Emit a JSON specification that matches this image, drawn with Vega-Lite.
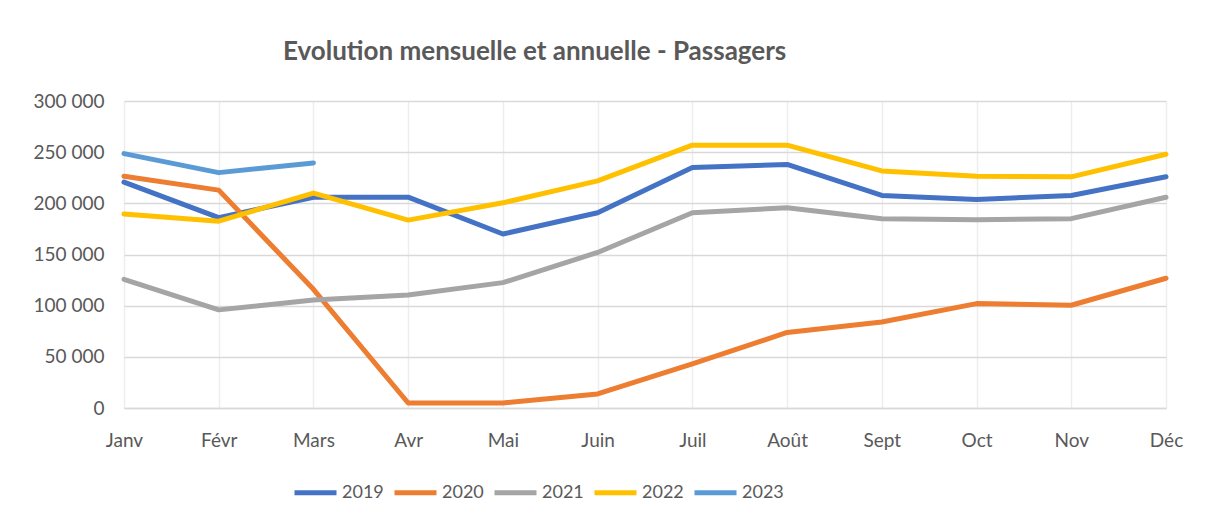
{
  "$schema": "https://vega.github.io/schema/vega-lite/v6.json",
  "width": 1042,
  "height": 307,
  "autosize": {"type": "none"},
  "padding": {"left": 124, "top": 101, "right": 40, "bottom": 116},
  "background": "white",
  "config": {
    "locale": {"number": {"decimal": ",", "thousands": " ", "grouping": [3], "currency": ["", " €"]}},
    "font": "Lato",
    "view": {"stroke": null}
  },
  "title": {
    "text": "Evolution mensuelle et annuelle - Passagers",
    "anchor": "start",
    "frame": "group",
    "dx": 159,
    "offset": 27,
    "font": "Lato",
    "fontSize": 26,
    "fontWeight": "bold",
    "color": "#595959"
  },
  "data": {
    "values": [
      {"mois": "Janv", "annee": "2019", "passagers": 220700},
      {"mois": "Févr", "annee": "2019", "passagers": 186000},
      {"mois": "Mars", "annee": "2019", "passagers": 206000},
      {"mois": "Avr", "annee": "2019", "passagers": 206000},
      {"mois": "Mai", "annee": "2019", "passagers": 170000},
      {"mois": "Juin", "annee": "2019", "passagers": 190800},
      {"mois": "Juil", "annee": "2019", "passagers": 235000},
      {"mois": "Août", "annee": "2019", "passagers": 238000},
      {"mois": "Sept", "annee": "2019", "passagers": 207700},
      {"mois": "Oct", "annee": "2019", "passagers": 203800},
      {"mois": "Nov", "annee": "2019", "passagers": 207700},
      {"mois": "Déc", "annee": "2019", "passagers": 226000},
      {"mois": "Janv", "annee": "2020", "passagers": 226500},
      {"mois": "Févr", "annee": "2020", "passagers": 212900},
      {"mois": "Mars", "annee": "2020", "passagers": 116000},
      {"mois": "Avr", "annee": "2020", "passagers": 4900},
      {"mois": "Mai", "annee": "2020", "passagers": 4900},
      {"mois": "Juin", "annee": "2020", "passagers": 13700},
      {"mois": "Juil", "annee": "2020", "passagers": 43200},
      {"mois": "Août", "annee": "2020", "passagers": 73800},
      {"mois": "Sept", "annee": "2020", "passagers": 84000},
      {"mois": "Oct", "annee": "2020", "passagers": 102000},
      {"mois": "Nov", "annee": "2020", "passagers": 100400},
      {"mois": "Déc", "annee": "2020", "passagers": 126800},
      {"mois": "Janv", "annee": "2021", "passagers": 125800},
      {"mois": "Févr", "annee": "2021", "passagers": 95900},
      {"mois": "Mars", "annee": "2021", "passagers": 105600},
      {"mois": "Avr", "annee": "2021", "passagers": 110500},
      {"mois": "Mai", "annee": "2021", "passagers": 122500},
      {"mois": "Juin", "annee": "2021", "passagers": 152000},
      {"mois": "Juil", "annee": "2021", "passagers": 190800},
      {"mois": "Août", "annee": "2021", "passagers": 195700},
      {"mois": "Sept", "annee": "2021", "passagers": 185000},
      {"mois": "Oct", "annee": "2021", "passagers": 184000},
      {"mois": "Nov", "annee": "2021", "passagers": 185000},
      {"mois": "Déc", "annee": "2021", "passagers": 206000},
      {"mois": "Janv", "annee": "2022", "passagers": 189500},
      {"mois": "Févr", "annee": "2022", "passagers": 182600},
      {"mois": "Mars", "annee": "2022", "passagers": 210000},
      {"mois": "Avr", "annee": "2022", "passagers": 183600},
      {"mois": "Mai", "annee": "2022", "passagers": 200500},
      {"mois": "Juin", "annee": "2022", "passagers": 222000},
      {"mois": "Juil", "annee": "2022", "passagers": 256800},
      {"mois": "Août", "annee": "2022", "passagers": 256800},
      {"mois": "Sept", "annee": "2022", "passagers": 231700},
      {"mois": "Oct", "annee": "2022", "passagers": 226500},
      {"mois": "Nov", "annee": "2022", "passagers": 225900},
      {"mois": "Déc", "annee": "2022", "passagers": 248000},
      {"mois": "Janv", "annee": "2023", "passagers": 248600},
      {"mois": "Févr", "annee": "2023", "passagers": 230000},
      {"mois": "Mars", "annee": "2023", "passagers": 239500}
    ]
  },
  "mark": {"type": "line", "strokeWidth": 5, "strokeCap": "round", "strokeJoin": "round"},
  "encoding": {
    "x": {
      "field": "mois",
      "type": "ordinal",
      "sort": ["Janv", "Févr", "Mars", "Avr", "Mai", "Juin", "Juil", "Août", "Sept", "Oct", "Nov", "Déc"],
      "scale": {"type": "point", "padding": 0},
      "axis": {
        "title": null,
        "labelAngle": 0,
        "labelFontSize": 19,
        "labelColor": "#595959",
        "labelPadding": 23,
        "ticks": false,
        "domain": true,
        "domainColor": "#D9D9D9",
        "domainWidth": 1.5,
        "grid": true,
        "gridColor": "#EDEDED",
        "gridWidth": 1.5
      }
    },
    "y": {
      "field": "passagers",
      "type": "quantitative",
      "scale": {"domain": [0, 300000], "nice": false},
      "axis": {
        "title": null,
        "values": [0, 50000, 100000, 150000, 200000, 250000, 300000],
        "format": ",d",
        "labelFontSize": 19,
        "labelColor": "#595959",
        "labelPadding": 20,
        "ticks": false,
        "domain": false,
        "grid": true,
        "gridColor": "#D9D9D9",
        "gridWidth": 1.5
      }
    },
    "color": {
      "field": "annee",
      "type": "nominal",
      "scale": {
        "domain": ["2019", "2020", "2021", "2022", "2023"],
        "range": ["#4472C4", "#ED7D31", "#A5A5A5", "#FFC000", "#5B9BD5"]
      },
      "legend": {
        "title": null,
        "orient": "none",
        "direction": "horizontal",
        "legendX": 168,
        "legendY": 368,
        "symbolType": "stroke",
        "symbolSize": 1764,
        "symbolStrokeWidth": 5,
        "labelFontSize": 18,
        "labelColor": "#595959",
        "labelOffset": 3,
        "columnPadding": 0
      }
    }
  }
}
